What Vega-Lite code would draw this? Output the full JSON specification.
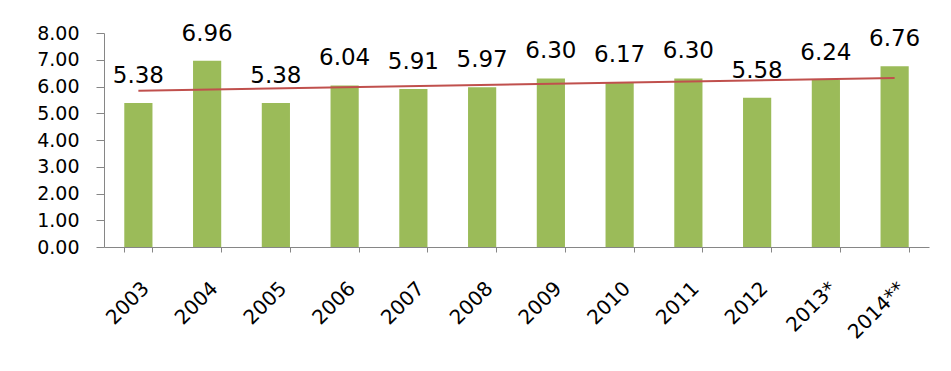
{
  "$schema": "https://vega.github.io/schema/vega-lite/v6.json",
  "autosize": "none",
  "width": 825,
  "height": 214,
  "padding": {"left": 104, "top": 33, "right": 22, "bottom": 124},
  "background": "white",
  "config": {"view": {"stroke": null}, "font": "DejaVu Sans"},
  "data": {
    "values": [
      {"year": "2003", "value": 5.38, "trend": 5.84},
      {"year": "2004", "value": 6.96},
      {"year": "2005", "value": 5.38},
      {"year": "2006", "value": 6.04},
      {"year": "2007", "value": 5.91},
      {"year": "2008", "value": 5.97},
      {"year": "2009", "value": 6.30},
      {"year": "2010", "value": 6.17},
      {"year": "2011", "value": 6.30},
      {"year": "2012", "value": 5.58},
      {"year": "2013*", "value": 6.24},
      {"year": "2014**", "value": 6.76, "trend": 6.32}
    ]
  },
  "encoding": {
    "x": {
      "field": "year",
      "type": "ordinal",
      "sort": null,
      "scale": {"paddingInner": 0.59, "paddingOuter": 0.295},
      "axis": {
        "title": null,
        "labelAngle": -45,
        "labelFont": "DejaVu Sans",
        "labelFontSize": 20,
        "labelColor": "#000000",
        "labelPadding": 26,
        "labelOverlap": false,
        "labelFlush": false,
        "labelBound": false,
        "tickBand": "extent",
        "tickSize": 5,
        "tickColor": "#868686",
        "domainColor": "#868686",
        "grid": false
      }
    },
    "y": {
      "field": "value",
      "type": "quantitative",
      "scale": {"domain": [0, 8], "nice": false},
      "axis": {
        "title": null,
        "values": [0, 1, 2, 3, 4, 5, 6, 7, 8],
        "format": ".2f",
        "labelFont": "DejaVu Sans",
        "labelFontSize": 19,
        "labelColor": "#000000",
        "labelPadding": 17,
        "labelOverlap": false,
        "labelFlush": false,
        "labelBound": false,
        "tickSize": 8,
        "tickColor": "#868686",
        "domainColor": "#868686",
        "grid": false
      }
    }
  },
  "layer": [
    {
      "mark": {"type": "bar", "color": "#9BBB59"}
    },
    {
      "mark": {"type": "text", "baseline": "alphabetic", "dy": -20, "font": "DejaVu Sans", "fontSize": 23, "color": "#000000"},
      "encoding": {
        "text": {"field": "value", "type": "quantitative", "format": ".2f"}
      }
    },
    {
      "mark": {"type": "line", "color": "#C0504D", "strokeWidth": 2, "invalid": "filter"},
      "encoding": {
        "y": {
          "field": "trend",
          "type": "quantitative",
          "axis": {
            "title": null,
            "values": [0, 1, 2, 3, 4, 5, 6, 7, 8],
            "format": ".2f",
            "labelFont": "DejaVu Sans",
            "labelFontSize": 19,
            "labelColor": "#000000",
            "labelPadding": 17,
            "labelOverlap": false,
            "labelFlush": false,
            "labelBound": false,
            "tickSize": 8,
            "tickColor": "#868686",
            "domainColor": "#868686",
            "grid": false
          }
        }
      }
    }
  ]
}
